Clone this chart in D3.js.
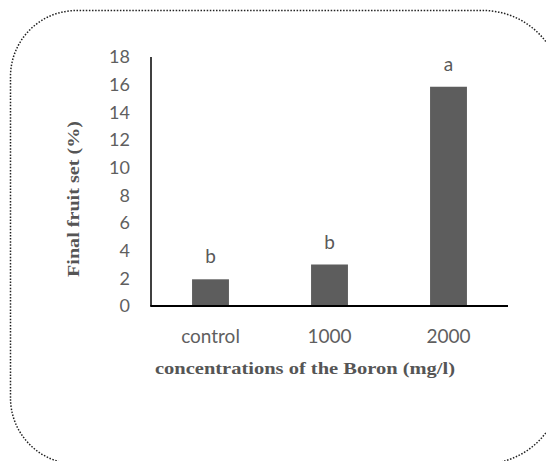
<!DOCTYPE html>
<html>
<head>
<meta charset="utf-8">
<script src="https://cdn.jsdelivr.net/npm/d3@7"></script>
<style>
  body { margin: 0; background: #fff; overflow: hidden; }
  svg { display: block; overflow: hidden; }
</style>
</head>
<body>
<svg width="546" height="461"></svg>
<script>
// chart data
const categories = ['control', '1000', '2000'];
const values = [1.93, 3.0, 15.85];
const letters = ['b', 'b', 'a'];
const yTicks = [0, 2, 4, 6, 8, 10, 12, 14, 16, 18];

const svg = d3.select('svg');

// dotted rounded frame, right and bottom sides run off the picture
const fL = 10.5, fT = 10.5, fR = 562, fB = 464;
const rL = 66, rR = 79;
const frame = d3.path();
frame.moveTo(fL + rL, fT);
frame.lineTo(fR - rR, fT);
frame.arcTo(fR, fT, fR, fT + rR, rR);
frame.lineTo(fR, fB - rR);
frame.arcTo(fR, fB, fR - rR, fB, rR);
frame.lineTo(fL + rL, fB);
frame.arcTo(fL, fB, fL, fB - rL, rL);
frame.lineTo(fL, fT + rL);
frame.arcTo(fL, fT, fL + rL, fT, rL);
frame.closePath();

svg.append('path')
    .attr('d', frame.toString())
    .style('fill', 'none')
    .style('stroke', '#222')
    .style('stroke-width', 1.5)
    .style('stroke-dasharray', '1.5 1.6');

const plotLeft = 151, plotRight = 508, plotTop = 57, plotBottom = 306;

const x = d3.scaleBand()
    .domain(categories)
    .range([plotLeft, plotRight])
    .paddingInner(0.69)
    .paddingOuter(0.345);

const y = d3.scaleLinear()
    .domain([0, 18])
    .range([plotBottom, plotTop]);

// bars
svg.selectAll('rect.bar')
    .data(values)
    .enter()
    .append('rect')
    .attr('class', 'bar')
    .attr('x', (d, i) => x(categories[i]))
    .attr('y', d => y(d))
    .attr('width', x.bandwidth())
    .attr('height', d => plotBottom - y(d))
    .style('fill', '#5d5d5d');

// significance letters
svg.selectAll('text.letter')
    .data(values)
    .enter()
    .append('text')
    .attr('class', 'letter')
    .attr('x', (d, i) => x(categories[i]) + x.bandwidth() / 2)
    .attr('y', d => y(d) - 16)
    .attr('text-anchor', 'middle')
    .style('font-family', 'Lato, "Open Sans", sans-serif')
    .style('font-size', '19px')
    .style('fill', '#595959')
    .text((d, i) => letters[i]);

// y axis: labels only, line drawn separately
const yAxis = d3.axisLeft(y).tickValues(yTicks).tickSize(0).tickPadding(21);
const gy = svg.append('g')
    .attr('transform', `translate(${plotLeft},0)`)
    .call(yAxis);
gy.select('.domain').remove();
gy.selectAll('text')
    .style('font-family', 'Lato, "Open Sans", sans-serif')
    .style('font-size', '18px')
    .style('fill', '#5f5f5f');

const xAxis = d3.axisBottom(x).tickSize(0).tickPadding(24);
const gx = svg.append('g')
    .attr('transform', `translate(0,${plotBottom})`)
    .call(xAxis);
gx.select('.domain').remove();
gx.selectAll('text')
    .style('font-family', 'Lato, "Open Sans", sans-serif')
    .style('font-size', '19px')
    .style('fill', '#5f5f5f');

// axis lines
svg.append('line')
    .attr('x1', plotLeft).attr('x2', plotLeft)
    .attr('y1', plotTop).attr('y2', plotBottom)
    .style('stroke', '#000')
    .style('stroke-width', 1.5);
svg.append('line')
    .attr('x1', plotLeft - 0.75).attr('x2', plotRight)
    .attr('y1', plotBottom).attr('y2', plotBottom)
    .style('stroke', '#000')
    .style('stroke-width', 2);

// axis titles
svg.append('text')
    .attr('x', 155)
    .attr('y', 374)
    .attr('textLength', 300)
    .attr('lengthAdjust', 'spacingAndGlyphs')
    .style('font-family', '"Liberation Serif", "Times New Roman", serif')
    .style('font-weight', 'bold')
    .style('font-size', '17px')
    .style('fill', '#555')
    .text('concentrations of the Boron (mg/l)');

svg.append('text')
    .attr('transform', 'translate(79,277) rotate(-90)')
    .attr('textLength', 156)
    .attr('lengthAdjust', 'spacingAndGlyphs')
    .style('font-family', '"Liberation Serif", "Times New Roman", serif')
    .style('font-weight', 'bold')
    .style('font-size', '17px')
    .style('fill', '#555')
    .text('Final fruit set (%)');
</script>
</body>
</html>
